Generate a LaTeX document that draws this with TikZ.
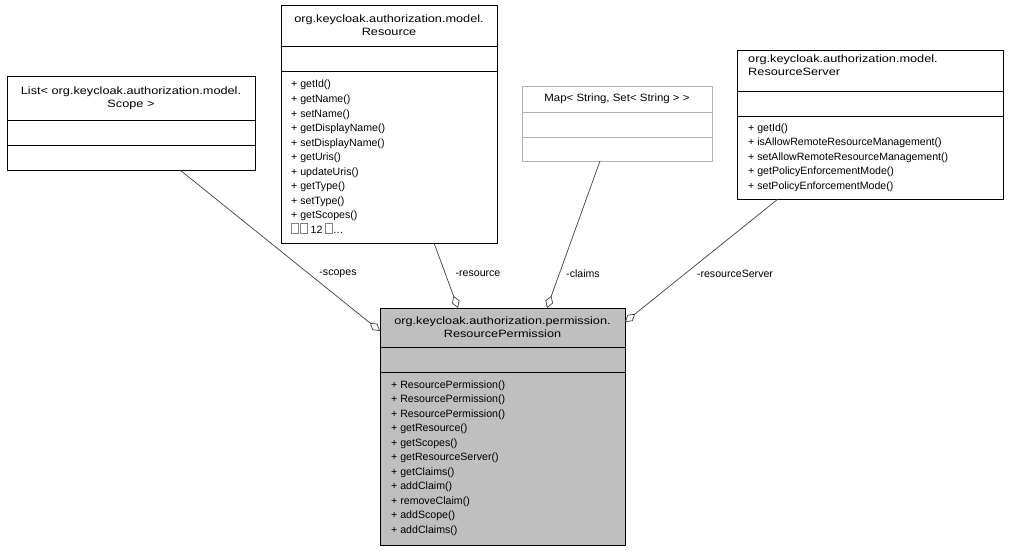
\documentclass[tikz,border=0pt]{standalone}
\usepackage{fontspec}
\setmainfont{Liberation Sans}
\usetikzlibrary{arrows.meta}
\begin{document}
\begin{tikzpicture}[x=1pt,y=-1pt,
  box/.style={draw,line width=0.8pt},
  txt/.style={font=\fontsize{10.6}{13}\selectfont,inner sep=0pt},
  ttl/.style={txt,align=center,anchor=center,xscale=1.2},
  mth/.style={txt,anchor=base west},
  lbl/.style={txt,fill=white,inner sep=1pt},
  agg/.style={draw=black!75,line width=0.7pt,-{Diamond[open,fill=white,length=13pt,width=8pt]}}]
\newcommand{\gb}{\tikz[baseline=0pt]\draw[gray,line width=0.4pt](0,0) rectangle (7,-10);}
\useasboundingbox (0,0) rectangle (1009,551);
% main
\node[box,fill=black!25,minimum width=245,minimum height=237,anchor=north west,inner sep=0] (rp) at (380,308) {};
\draw (380,347) -- (625,347) (380,372) -- (625,372);
\node[ttl] (rpt) at (502.5,327.5) {org.keycloak.authorization.permission.\\ResourcePermission};
\foreach \t [count=\i] in {ResourcePermission(),ResourcePermission(),ResourcePermission(),getResource(),getScopes(),getResourceServer(),getClaims(),addClaim(),removeClaim(),addScope(),addClaims()}
  \node[mth] (rpm\i) at (391,{373.5+14.5*\i}) {+ \t};
% Resource
\node[box,fill=white,minimum width=216,minimum height=238,anchor=north west,inner sep=0] (res) at (281,5) {};
\draw (281,46) -- (497,46) (281,71) -- (497,71);
\node[ttl] (rest) at (389,25.5) {org.keycloak.authorization.model.\\Resource};
\foreach \t [count=\i] in {getId(),getName(),setName(),getDisplayName(),setDisplayName(),getUris(),updateUris(),getType(),setType(),getScopes()}
  \node[mth] (resm\i) at (291,{73.5+14.5*\i}) {+ \t};
\node[mth] (resm11) at (291,{73.5+14.5*11}) {\gb\,\gb\ 12 \gb\ldots};
% List
\node[box,fill=white,minimum width=248,minimum height=94,anchor=north west,inner sep=0] (lst) at (7,76) {};
\draw (7,120) -- (255,120) (7,145) -- (255,145);
\node[ttl] (lstt) at (131,98) {List< org.keycloak.authorization.model.\\Scope >};
% Map
\node[box,draw=black!30,fill=white,minimum width=190,minimum height=75,anchor=north west,inner sep=0] (map) at (522,86) {};
\draw[black!30,line width=0.8pt] (522,112) -- (712,112) (522,137) -- (712,137);
\node[ttl,xscale=0.9] (mapt) at (617,99) {Map< String, Set< String > >};
% ResourceServer
\node[box,fill=white,minimum width=266,minimum height=149,anchor=north west,inner sep=0] (rs) at (737,50) {};
\draw (737,91) -- (1003,91) (737,116) -- (1003,116);
\node[txt,align=left,anchor=north west,xscale=1.2] (rst) at (748,55) {org.keycloak.authorization.model.\\ResourceServer};
\foreach \t [count=\i] in {getId(),isAllowRemoteResourceManagement(),setAllowRemoteResourceManagement(),getPolicyEnforcementMode(),setPolicyEnforcementMode()}
  \node[mth] (rsm\i) at (748,{116.5+14.5*\i}) {+ \t};
% connectors
\coordinate (c1) at (180,170); \coordinate (e1) at (380,331);
\coordinate (c2) at (434,243); \coordinate (e2) at (458,308);
\coordinate (c3) at (600,161); \coordinate (e3) at (547,308);
\coordinate (c4) at (778,199); \coordinate (e4) at (625,322);
\draw[agg] (c1) -- (e1);
\draw[agg] (c2) -- (e2);
\draw[agg] (c3) -- (e3);
\draw[agg] (c4) -- (e4);
\node[lbl] (l1) at (338,274) {-scopes};
\node[lbl] (l2) at (478,274) {-resource};
\node[lbl] (l3) at (583,274) {-claims};
\node[lbl] (l4) at (735,274) {-resourceServer};
\end{tikzpicture}
\end{document}
